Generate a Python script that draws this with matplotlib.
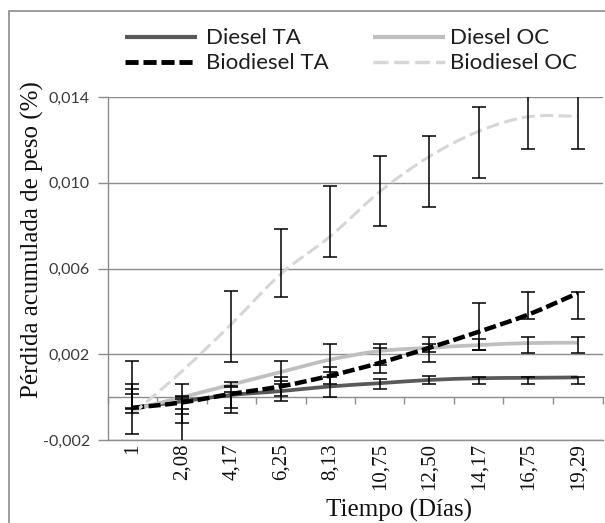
import numpy as np
import matplotlib
matplotlib.use("Agg")
import matplotlib.pyplot as plt
from matplotlib.path import Path
from matplotlib.patches import PathPatch, Rectangle
from matplotlib.lines import Line2D
from matplotlib.ticker import FuncFormatter

# ---------------- data (values in %) ----------------
categories = ["1", "2,08", "4,17", "6,25", "8,13", "10,75", "12,50", "14,17", "16,75", "19,29"]

diesel_ta = np.array([-0.50, -0.20, 0.10, 0.28, 0.50, 0.65, 0.80, 0.88, 0.90, 0.92]) * 1e-3
diesel_oc = np.array([-0.60, -0.01, 0.58, 1.17, 1.75, 2.15, 2.30, 2.43, 2.52, 2.54]) * 1e-3
bio_ta = np.array([-0.50, -0.25, 0.15, 0.50, 1.00, 1.60, 2.30, 3.05, 3.85, 4.85]) * 1e-3
bio_oc = np.array([-0.80, 1.20, 3.40, 5.74, 7.50, 9.58, 11.22, 12.40, 13.08, 13.10]) * 1e-3

# error-bar ends (low, high)
diesel_ta_lo = np.array([-0.75, -0.54, -0.51, -0.19, 0.00, 0.40, 0.63, 0.60, 0.60, 0.60]) * 1e-3
diesel_ta_hi = np.array([0.16, 0.05, 0.25, 0.75, 0.95, 0.85, 0.97, 0.95, 0.95, 0.95]) * 1e-3
diesel_oc_lo = np.array([-0.50, -1.22, 0.50, 0.60, 1.16, 1.48, 2.10, 2.20, 2.06, 2.06]) * 1e-3
diesel_oc_hi = np.array([0.60, 0.00, 0.70, 1.67, 2.50, 2.50, 2.50, 2.70, 2.80, 2.80]) * 1e-3
bio_ta_lo = np.array([-0.55, -0.80, -0.75, 0.05, 0.60, 1.13, 1.63, 2.22, 3.65, 3.65]) * 1e-3
bio_ta_hi = np.array([0.37, -0.10, 0.49, 0.95, 1.40, 2.27, 2.82, 4.41, 4.89, 4.89]) * 1e-3
bio_oc_lo = np.array([-1.70, -2.20, 1.63, 4.67, 6.52, 7.96, 8.87, 10.21, 11.57, 11.57]) * 1e-3
bio_oc_hi = np.array([1.67, 0.60, 4.94, 7.85, 9.84, 11.27, 12.16, 13.53, 14.60, 14.60]) * 1e-3

yticks = [-0.002, 0.002, 0.006, 0.010, 0.014]
series_names = ["Diesel TA", "Diesel OC", "Biodiesel TA", "Biodiesel OC"]

# ---------------- figure ----------------
W, H = 605, 523
fig = plt.figure(figsize=(W / 100, H / 100), dpi=100)
fig.patch.set_facecolor("white")

def fx(x):
    return x / W

def fy(y):
    return 1 - y / H

left, right, top, bottom = 107.5, 602.5, 97.0, 440.0
ax = fig.add_axes([fx(left), fy(bottom), (right - left) / W, (bottom - top) / H])

x = np.arange(len(categories))
ax.set_xlim(-0.5, len(categories) - 0.5)
ax.set_ylim(yticks[0], yticks[-1])

GRID = "#8c8c8c"

# smooth (Excel-like) curve through the points
def smooth_path(xs, ys):
    pts = np.column_stack([xs, ys]).astype(float)
    n = len(pts)
    verts = [pts[0]]
    codes = [Path.MOVETO]
    for i in range(n - 1):
        p0 = pts[i - 1] if i > 0 else pts[i]
        p1 = pts[i]
        p2 = pts[i + 1]
        p3 = pts[i + 2] if i + 2 < n else pts[i + 1]
        c1 = p1 + (p2 - p0) / 6.0
        c2 = p2 - (p3 - p1) / 6.0
        verts += [c1, c2, p2]
        codes += [Path.CURVE4] * 3
    return Path(verts, codes)

styles = {
    "Diesel TA": dict(color="#595959", lw=2.7, ls="-"),
    "Diesel OC": dict(color="#bfbfbf", lw=2.7, ls="-"),
    "Biodiesel TA": dict(color="#000000", lw=3.2, ls=(0, (2.7, 1.0))),
    "Biodiesel OC": dict(color="#d6d6d6", lw=2.2, ls=(0, (4.3, 1.7))),
}
values = {"Diesel TA": diesel_ta, "Diesel OC": diesel_oc,
          "Biodiesel TA": bio_ta, "Biodiesel OC": bio_oc}
lows = {"Diesel TA": diesel_ta_lo, "Diesel OC": diesel_oc_lo,
        "Biodiesel TA": bio_ta_lo, "Biodiesel OC": bio_oc_lo}
highs = {"Diesel TA": diesel_ta_hi, "Diesel OC": diesel_oc_hi,
         "Biodiesel TA": bio_ta_hi, "Biodiesel OC": bio_oc_hi}

for name in series_names:
    st = styles[name]
    patch = PathPatch(smooth_path(x, values[name]), fill=False, edgecolor=st["color"],
                      linewidth=st["lw"], linestyle=st["ls"], capstyle="butt",
                      joinstyle="round", zorder=3)
    ax.add_patch(patch)

for name in series_names:
    lo, hi = lows[name], highs[name]
    ax.errorbar(x, (lo + hi) / 2, yerr=(hi - lo) / 2, fmt="none", ecolor="black",
                elinewidth=1.1, capsize=4.7, capthick=1.1, zorder=5)

# axes styling
ax.set_yticks(yticks)
ax.yaxis.set_major_formatter(FuncFormatter(lambda v, p: f"{v:.3f}".replace(".", ",")))
ax.yaxis.grid(True, color=GRID, lw=1.0, zorder=0)
ax.set_axisbelow(True)
for s in ["top", "right"]:
    ax.spines[s].set_visible(False)
ax.spines["left"].set_color(GRID)
ax.spines["bottom"].set_color(GRID)
ax.spines["left"].set_linewidth(1.0)
ax.spines["bottom"].set_linewidth(1.0)
ax.tick_params(axis="y", direction="out", length=7, width=1, color=GRID, pad=5.6,
               labelsize=11.5, labelcolor="#3a3a3a")
for t in ax.get_yticklabels():
    t.set_family("Lato")

ax.set_xticks(x)
ax.set_xticklabels(categories, rotation=90, family="Liberation Serif", fontsize=15,
                   va="top", ha="center")
ax.tick_params(axis="x", length=0, pad=2.4, labelcolor="#111111")

# category axis crossing at zero with tick marks between categories
frac0 = (0 - yticks[0]) / (yticks[-1] - yticks[0])
sec = ax.secondary_xaxis(frac0)
sec.set_xticks(np.arange(len(categories) + 1) - 0.5)
sec.set_xticklabels([])
sec.tick_params(direction="out", length=5, width=1, color=GRID)
sec.spines["bottom"].set_color(GRID)
sec.spines["bottom"].set_linewidth(1.0)

# axis titles
fig.text(fx(32.5), fy(240), "Pérdida acumulada de peso (%)", rotation=90,
         ha="center", va="center", family="Liberation Serif", fontsize=18, color="#111111")
fig.text(fx(399), fy(510), "Tiempo (Días)", ha="center", va="center",
         family="Liberation Serif", fontsize=18, color="#111111")

# legend (two columns, above the plot)
leg_rows = {"Diesel TA": (125, 197, 206, 36.7, 44.0),
            "Biodiesel TA": (125, 197, 206, 61.7, 69.3),
            "Diesel OC": (373, 445, 450, 36.7, 44.0),
            "Biodiesel OC": (373, 445, 450, 61.7, 69.3)}
for name in series_names:
    x0, x1, tx, ly, base = leg_rows[name]
    st = styles[name]
    fig.add_artist(Line2D([fx(x0), fx(x1)], [fy(ly), fy(ly)], transform=fig.transFigure,
                          color=st["color"], lw=st["lw"] + 0.3, linestyle=st["ls"],
                          solid_capstyle="butt", dash_capstyle="butt"))
    fig.text(fx(tx), fy(base), name, ha="left", va="baseline", family="Lato",
             fontsize=16, color="#1e1e1e")

# chart-area border (top and left visible)
fig.add_artist(Rectangle((fx(9), -0.2), 2.0, fy(11) + 0.2, transform=fig.transFigure,
                         fill=False, edgecolor="#8a8a8a", lw=1.2))

fig.savefig("out.png", dpi=100)
